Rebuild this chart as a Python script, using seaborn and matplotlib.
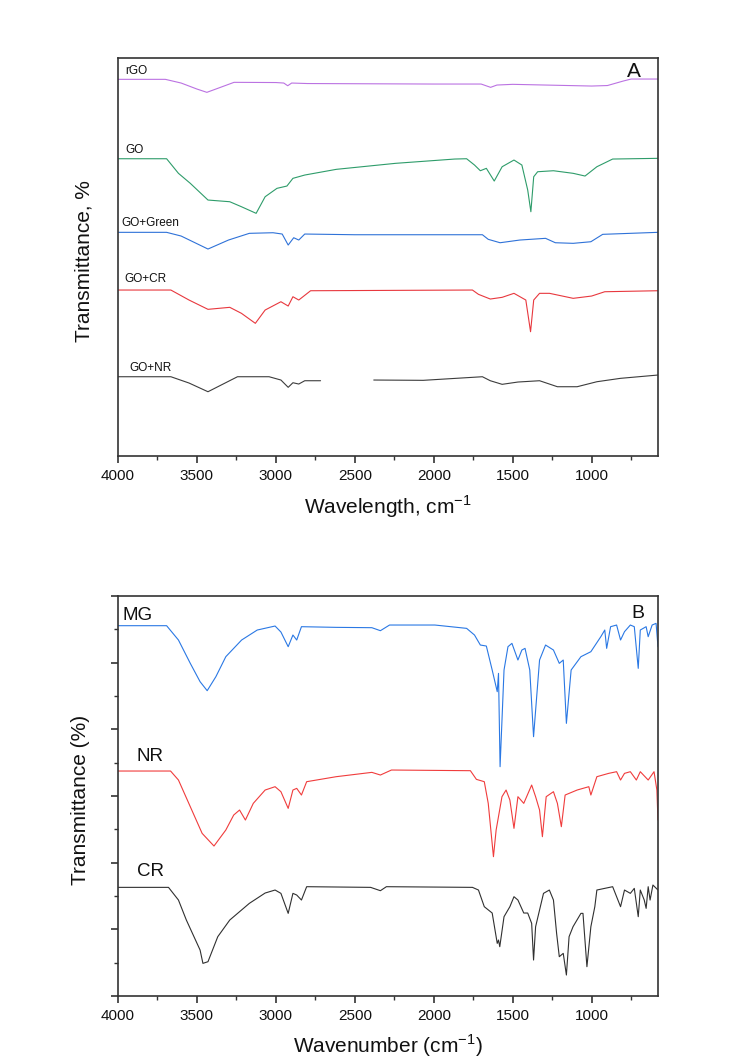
import numpy as np
import pandas as pd
import matplotlib
matplotlib.use("Agg")
import matplotlib.pyplot as plt
from matplotlib.ticker import MultipleLocator
import seaborn as sns

sns.set_theme(style="white")
plt.rcParams['font.family'] = ['Liberation Sans', 'DejaVu Sans']
plt.rcParams['mathtext.fontset'] = 'custom'
plt.rcParams['mathtext.rm'] = 'Liberation Sans'

# ---------------- Panel A data (wavenumber, relative transmittance, offset stacked) ----------------
rgo_wn = [4000, 3700, 3600, 3500, 3437, 3380, 3265, 3000, 2950, 2925, 2900, 2800, 2000, 1700, 1640,
          1600, 1500, 1000, 900, 800, 750, 580]
rgo_t = [376.7, 376.7, 373, 367, 363.7, 367, 373.7, 373.5, 373, 370.3, 373, 372.5, 372, 372, 368.7,
         371, 371.7, 370, 370.5, 375, 377, 377]

go_wn = [4000, 3692, 3617, 3542, 3430, 3292, 3218, 3125, 3068, 2993, 2930, 2892, 2817, 2617, 2242,
         1867, 1792, 1742, 1705, 1667, 1617, 1567, 1492, 1442, 1405, 1385, 1367, 1342, 1242, 1117,
         1042, 967, 867, 580]
go_t = [297.3, 297.3, 282.7, 272.7, 256, 254.3, 249.3, 242.7, 259.3, 267.7, 270, 277.7, 281, 286.7, 292.7,
        297, 297.3, 291, 285.3, 287.7, 275, 289.3, 296, 291, 266, 244.3, 279.3, 284.3, 285.3, 282.7,
        280, 289.3, 297, 297.7]

green_wn = [4000, 3692, 3600, 3430, 3300, 3168, 3018, 2960, 2922, 2887, 2855, 2817, 2500, 1692, 1655,
            1580, 1455, 1292, 1230, 1117, 1005, 930, 580]
green_t = [223.7, 223.7, 220, 207, 216, 222.7, 223.3, 222, 211, 218.3, 216, 222, 221.3, 221.3, 216.7,
           213.3, 216, 217.7, 213.3, 212.7, 214.3, 221.7, 223.7]

gocr_wn = [4000, 3665, 3550, 3430, 3292, 3218, 3130, 3068, 2968, 2922, 2892, 2855, 2780, 1755, 1717,
           1642, 1567, 1492, 1417, 1387, 1367, 1330, 1267, 1117, 1000, 917, 580]
gocr_t = [166, 166, 156, 146.7, 148.7, 142.7, 132.7, 146, 154.3, 150, 159.3, 156, 165.3, 166, 161.7,
          157, 158.7, 162.7, 156, 124.3, 156, 162.7, 162.7, 157.7, 160, 164.3, 165.3]

gonr1_wn = [4000, 3665, 3550, 3430, 3243, 3043, 2968, 2922, 2892, 2855, 2817, 2717]
gonr1_t = [79.3, 79.3, 73, 64.3, 79.3, 79.3, 76, 68.7, 73.3, 72, 75.3, 75.3]
gonr2_wn = [2380, 2067, 1692, 1642, 1567, 1467, 1330, 1217, 1092, 967, 817, 580]
gonr2_t = [76, 75.7, 79.3, 75.3, 71.7, 74, 75.3, 69.3, 69.3, 74.3, 77.7, 81]

labels_a = ["rGO", "GO", "GO+Green", "GO+CR", "GO+NR"]
label_a_wn = [3956, 3951, 3977, 3960, 3928]
label_a_t = [385.3, 306, 233, 177, 88]

# ---------------- Panel B data ----------------
mg_wn = [4000, 3692, 3617, 3542, 3480, 3435, 3380, 3317, 3217, 3118, 3005, 2968, 2922, 2892, 2868, 2838,
         2618, 2392, 2338, 2280, 1993, 1792, 1742, 1705, 1667, 1630, 1598, 1590, 1580, 1555, 1530, 1505,
         1467, 1442, 1422, 1392, 1368, 1330, 1292, 1242, 1205, 1180, 1160, 1130, 1068, 1005, 942, 917,
         905, 880, 842, 817, 792, 755, 730, 705, 692, 655, 642, 617, 592, 580]
mg_t = [5.555, 5.555, 5.34, 4.99, 4.715, 4.58, 4.79, 5.09, 5.34, 5.49, 5.55, 5.46, 5.24, 5.415, 5.34, 5.54,
        5.53, 5.525, 5.48, 5.565, 5.565, 5.515, 5.415, 5.265, 5.25, 4.89, 4.565, 4.84, 3.44, 4.89, 5.24, 5.29,
        5.04, 5.19, 5.215, 4.89, 3.89, 5.04, 5.265, 5.19, 4.99, 5.04, 4.09, 4.89, 5.09, 5.165, 5.39, 5.49,
        5.215, 5.54, 5.565, 5.34, 5.465, 5.565, 5.54, 4.915, 5.49, 5.54, 5.39, 5.565, 5.59, 5.24]

nr_wn = [4000, 3667, 3617, 3542, 3467, 3392, 3317, 3267, 3230, 3193, 3143, 3068, 3005, 2968, 2922, 2892,
         2868, 2838, 2805, 2618, 2392, 2338, 2268, 1768, 1730, 1680, 1655, 1622, 1605, 1568, 1542, 1518,
         1492, 1467, 1430, 1380, 1355, 1330, 1312, 1288, 1242, 1217, 1192, 1168, 1092, 1018, 1005, 967,
         892, 842, 817, 792, 755, 717, 692, 642, 605, 587, 580]
nr_t = [3.375, 3.375, 3.24, 2.84, 2.44, 2.25, 2.49, 2.715, 2.79, 2.64, 2.89, 3.09, 3.14, 3.065, 2.815, 3.09,
        3.115, 3.015, 3.215, 3.29, 3.355, 3.315, 3.39, 3.38, 3.25, 3.215, 2.89, 2.09, 2.49, 2.99, 3.09, 2.94,
        2.515, 2.99, 2.89, 3.165, 2.99, 2.79, 2.39, 2.99, 3.065, 2.89, 2.54, 3.015, 3.09, 3.14, 3.015, 3.29,
        3.34, 3.365, 3.24, 3.34, 3.365, 3.24, 3.365, 3.24, 3.365, 3.09, 2.64]

cr_wn = [4000, 3680, 3617, 3567, 3480, 3462, 3430, 3368, 3292, 3168, 3068, 3005, 2968, 2922, 2892, 2868,
         2838, 2805, 2400, 2338, 2300, 1755, 1717, 1680, 1630, 1598, 1590, 1582, 1555, 1518, 1492, 1467,
         1430, 1405, 1380, 1368, 1355, 1330, 1305, 1268, 1242, 1222, 1205, 1180, 1160, 1143, 1118, 1068,
         1055, 1030, 1005, 980, 967, 917, 867, 817, 792, 755, 730, 705, 692, 667, 655, 642, 630, 612, 580]
cr_t = [1.63, 1.63, 1.44, 1.14, 0.69, 0.49, 0.515, 0.89, 1.14, 1.39, 1.545, 1.59, 1.54, 1.24, 1.54, 1.515,
        1.44, 1.64, 1.63, 1.58, 1.64, 1.63, 1.59, 1.34, 1.245, 0.79, 0.84, 0.74, 1.19, 1.34, 1.49, 1.44,
        1.245, 1.245, 1.09, 0.54, 1.04, 1.29, 1.54, 1.59, 1.44, 0.94, 0.59, 0.64, 0.315, 0.89, 1.04, 1.24,
        1.24, 0.44, 1.04, 1.34, 1.59, 1.615, 1.64, 1.34, 1.59, 1.54, 1.615, 1.19, 1.59, 1.44, 1.315, 1.64,
        1.44, 1.665, 1.59]

labels_b = ["MG", "NR", "CR"]
label_b_wn = [3973, 3882, 3882]
label_b_t = [5.715, 3.59, 1.865]

# ---------------- Figure ----------------
fig = plt.figure(figsize=(7.5, 10.63), dpi=100)
axA = fig.add_axes([0.1573, 0.5710, 0.72, 0.3744])
axB = fig.add_axes([0.1573, 0.0630, 0.72, 0.3763])

lw = 0.8
seriesA = [
    (rgo_wn, rgo_t, '#bb72e2'),
    (go_wn, go_t, '#2e9c6a'),
    (green_wn, green_t, '#2f72d8'),
    (gocr_wn, gocr_t, '#e8383e'),
    (gonr1_wn, gonr1_t, '#3c3c3c'),
    (gonr2_wn, gonr2_t, '#3c3c3c'),
]
for wn, t, c in seriesA:
    df = pd.DataFrame({"wn": wn, "t": t})
    sns.lineplot(data=df, x="wn", y="t", ax=axA, color=c, lw=lw, sort=False, estimator=None)

for lab, x, y in zip(labels_a, label_a_wn, label_a_t):
    axA.text(x, y, lab, fontsize=8.5, ha='left', va='center', color='#111111')
axA.text(730, 385, "A", fontsize=15, ha='center', va='center', color='#111111')

seriesB = [
    (mg_wn, mg_t, '#2a78e4'),
    (nr_wn, nr_t, '#f03c3c'),
    (cr_wn, cr_t, '#303030'),
]
for wn, t, c in seriesB:
    df = pd.DataFrame({"wn": wn, "t": t})
    sns.lineplot(data=df, x="wn", y="t", ax=axB, color=c, lw=lw, sort=False, estimator=None)

for lab, x, y in zip(labels_b, label_b_wn, label_b_t):
    axB.text(x, y, lab, fontsize=13.5, ha='left', va='center', color='#111111')
axB.text(705, 5.74, "B", fontsize=14, ha='center', va='center', color='#111111')

spine_c = '#333333'
for ax in (axA, axB):
    ax.set_xlim(4000, 580)
    ax.xaxis.set_major_locator(MultipleLocator(500))
    ax.xaxis.set_minor_locator(MultipleLocator(250))
    for s in ax.spines.values():
        s.set_visible(True)
        s.set_color(spine_c)
        s.set_linewidth(1.2)
    ax.tick_params(axis='x', which='major', direction='out', length=5, width=1.2, colors=spine_c,
                   labelsize=11, labelcolor='#111111', pad=4, bottom=True)
    ax.tick_params(axis='x', which='minor', direction='out', length=3, width=1.0, colors=spine_c, bottom=True)
    ax.set_facecolor('white')

axA.set_ylim(0, 398)
axA.set_yticks([])
axA.set_xlabel("Wavelength, cm$^{-1}$", fontsize=15, color='#111111')
axA.set_ylabel("Transmittance, %", fontsize=15, color='#111111')
axA.xaxis.set_label_coords(0.5, -0.095)
axA.yaxis.set_label_coords(-0.045, 0.49)

axB.set_ylim(0, 6)
axB.yaxis.set_major_locator(MultipleLocator(1))
axB.yaxis.set_minor_locator(MultipleLocator(0.5))
axB.tick_params(axis='y', which='major', direction='out', length=5, width=1.2, colors=spine_c,
                labelleft=False, left=True)
axB.tick_params(axis='y', which='minor', direction='out', length=3, width=1.0, colors=spine_c, left=True)
axB.set_xlabel("Wavenumber (cm$^{-1}$)", fontsize=15, color='#111111')
axB.set_ylabel("Transmittance (%)", fontsize=15, color='#111111')
axB.xaxis.set_label_coords(0.5, -0.092)
axB.yaxis.set_label_coords(-0.052, 0.49)

fig.savefig("out.png", dpi=100, facecolor='white')
